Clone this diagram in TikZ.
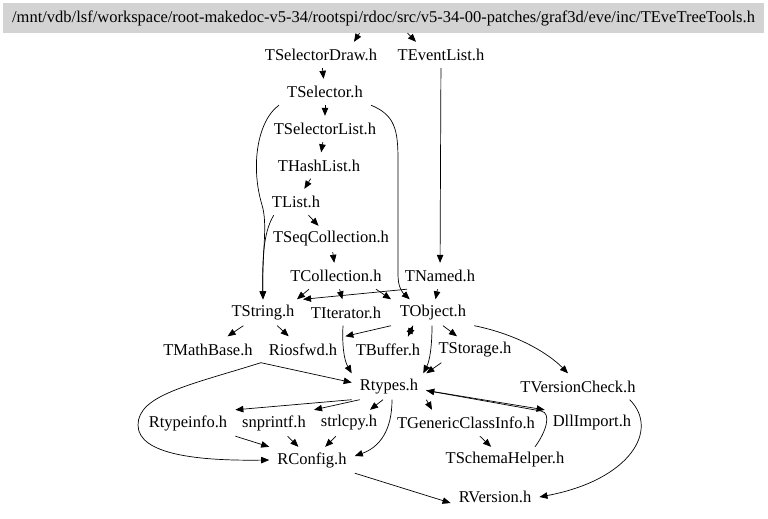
\documentclass[tikz,border=0pt]{standalone}
\usepackage{fontspec}
\setmainfont{Liberation Serif}
\usepackage{tikz}
\usetikzlibrary{arrows.meta}
\usetikzlibrary{calc}
\definecolor{grisclair}{HTML}{D3D3D3}
\tikzstyle{entete}=[
        rectangle,
        fill=grisclair,
        minimum width=761pt,
        minimum height=30pt,
        inner sep=0pt
]
\tikzstyle{fichier}=[rectangle,inner xsep=8pt,inner ysep=0pt,minimum height=26pt]
\tikzstyle{inclut}=[-{Triangle[length=8pt,width=6.5pt]},line width=0.7pt]

\begin{document}
\begin{tikzpicture}[x=1pt,y=-1pt,font=\fontsize{16.5}{19}\selectfont]
\useasboundingbox (0,0) rectangle (768,519);
\node[entete] (eve) at (383.5,18) {/mnt/vdb/lsf/workspace/root-makedoc-v5-34/rootspi/rdoc/src/v5-34-00-patches/graf3d/eve/inc/TEveTreeTools.h};
\node[fichier] (seldraw) at (321,55) {TSelectorDraw.h};
\node[fichier] (evlist) at (441,55) {TEventList.h};
\node[fichier] (sel) at (325,92) {TSelector.h};
\node[fichier] (sellist) at (325,129) {TSelectorList.h};
\node[fichier] (hash) at (319,165.5) {THashList.h};
\node[fichier] (list) at (296,202) {TList.h};
\node[fichier] (seqcol) at (331,239) {TSeqCollection.h};
\node[fichier] (coll) at (336,276) {TCollection.h};
\node[fichier] (named) at (440,276) {TNamed.h};
\node[fichier] (str) at (263,312.5) {TString.h};
\node[fichier] (iter) at (346,312.5) {TIterator.h};
\node[fichier] (obj) at (433,312.5) {TObject.h};
\node[fichier] (math) at (208,349.5) {TMathBase.h};
\node[fichier] (ios) at (303,349.5) {Riosfwd.h};
\node[fichier] (buf) at (388,349.5) {TBuffer.h};
\node[fichier] (stor) at (475,349.5) {TStorage.h};
\node[fichier] (rtypes) at (389,386.5) {Rtypes.h};
\node[fichier] (vcheck) at (578,386.5) {TVersionCheck.h};
\node[fichier] (rtinfo) at (188,423) {Rtypeinfo.h};
\node[fichier] (snpr) at (274,423) {snprintf.h};
\node[fichier] (strl) at (349,423) {strlcpy.h};
\node[fichier] (gcinfo) at (466,423) {TGenericClassInfo.h};
\node[fichier] (dll) at (592,423) {DllImport.h};
\node[fichier] (rconf) at (312,460) {RConfig.h};
\node[fichier] (schema) at (505,460) {TSchemaHelper.h};
\node[fichier] (rver) at (495,497) {RVersion.h};
%Drawing Edges
\draw[inclut] ([xshift=-24pt]eve.south) -- ([xshift=33pt]seldraw.north);
\draw[inclut] ([xshift=24pt]eve.south) -- ([xshift=-25pt]evlist.north);
\draw[inclut] (seldraw) -- (sel);
\draw[inclut] (sel) -- (sellist);
\draw[inclut] (sel.south west) .. controls (258,120) and (250,165) .. (262,205) .. controls (268,225) and (262,250) .. (str.north);
\draw[inclut] (sel.south east) .. controls (395,115) and (398,130) .. (398,160) -- (398,275) .. controls (398,288) and (403,293) .. ([xshift=18pt]obj.north west);
\draw[inclut] (sellist) -- (hash);
\draw[inclut] (hash) -- (list);
\draw[inclut] (list) -- (seqcol);
\draw[inclut] ([xshift=10pt]list.south west) .. controls (265,230) and (262,250) .. (str.north);
\draw[inclut] (seqcol) -- (coll);
\draw[inclut] ([xshift=-27pt]coll.south) -- ([xshift=34pt]str.north);
\draw[inclut] (coll) -- (iter);
\draw[inclut] ([xshift=40pt]coll.south) -- ([xshift=-42pt]obj.north);
\draw[inclut] (evlist) -- (named);
\draw[inclut] ([xshift=-33pt]named.south) -- ([xshift=40pt]str.north);
\draw[inclut] (named) -- (obj);
\draw[inclut] (str) -- (math);
\draw[inclut] (str) -- (ios);
\draw[inclut] ([xshift=-3pt]iter.south) .. controls (342,345) and (344,360) .. (rtypes.north west);
\draw[inclut] ([xshift=-42pt]obj.south) -- (ios.north east);
\draw[inclut] ([xshift=-20pt]obj.south) -- ([xshift=20pt]buf.north);
\draw[inclut] ([xshift=20pt]buf.north) -- ([xshift=-20pt]obj.south);
\draw[inclut] ([xshift=10pt]obj.south) -- ([xshift=-18pt]stor.north);
\draw[inclut] ([xshift=-1pt]obj.south) .. controls (432,345) and (430,360) .. ([xshift=-3pt]rtypes.north east);
\draw[inclut] (obj.south east) .. controls (520,335) and (550,355) .. ([xshift=-10pt]vcheck.north);
\draw[inclut] ([xshift=11pt]stor.south west) -- (rtypes.north east);
\draw[inclut] (math.south east) -- ([yshift=4pt]rtypes.west);
\draw[inclut] (math.south east) .. controls (190,385) and (138,395) .. (138,425) .. controls (138,455) and (200,461) .. (rconf.west);
\draw[inclut] (rtypes.south west) -- (rtinfo.north east);
\draw[inclut] ([xshift=8pt]rtypes.south west) -- (snpr.north east);
\draw[inclut] ([xshift=-6pt]rtypes.south) -- ([xshift=21pt]strl.north);
\draw[inclut] ([xshift=3pt]rtypes.south) .. controls (392,430) and (380,447) .. ([yshift=4pt]rconf.east);
\draw[inclut] (rtypes.south east) -- ([xshift=-34pt]gcinfo.north);
\draw[inclut] ([yshift=-4pt]rtypes.east) -- (dll.north west);
\draw[inclut] ([xshift=30pt]schema.north) .. controls (546,432) and (552,413) .. (541,411) -- ([yshift=-4pt]rtypes.east);
\draw[inclut] (gcinfo) -- (schema);
\draw[inclut] (rtinfo.south east) -- (rconf.north west);
\draw[inclut] (snpr) -- (rconf);
\draw[inclut] (strl) -- (rconf);
\draw[inclut] (rconf.south east) -- ([yshift=-6pt]rver.west);
\draw[inclut] ([xshift=-14pt]vcheck.south east) .. controls (660,430) and (630,480) .. (rver.east);
\end{tikzpicture}
\end{document}
